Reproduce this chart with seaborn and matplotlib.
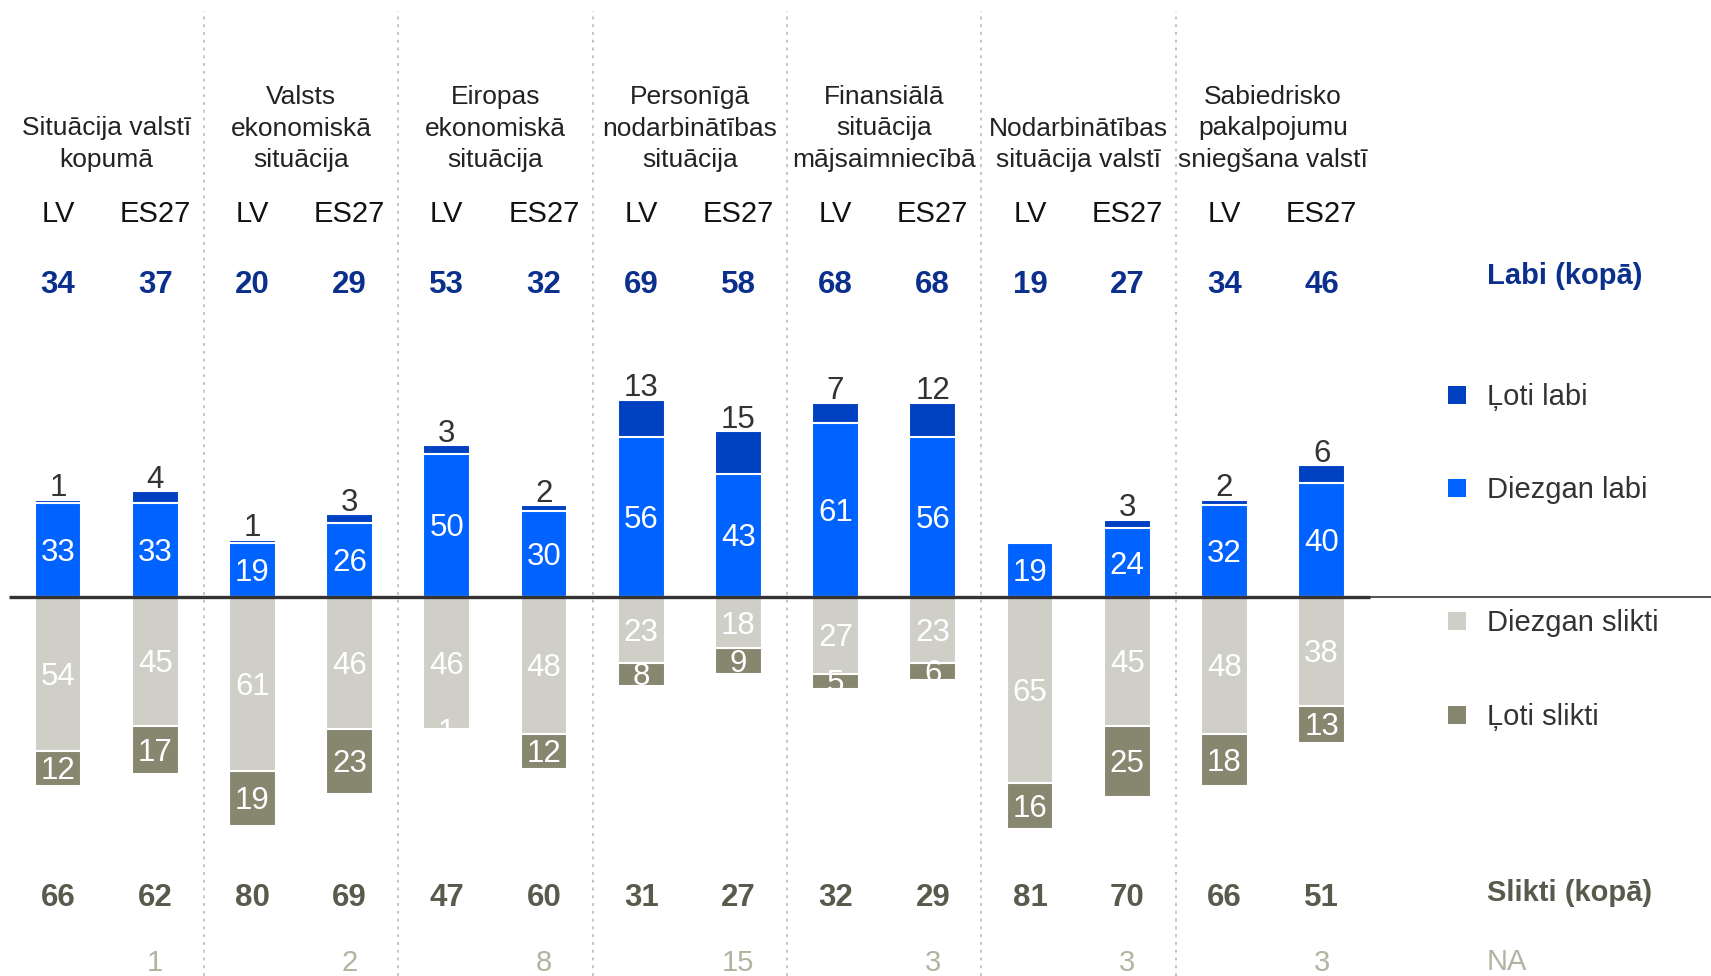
import numpy as np
import pandas as pd
import matplotlib.pyplot as plt
import seaborn as sns

# Data
topics = [
    "Situācija valstī\nkopumā",
    "Valsts\nekonomiskā\nsituācija",
    "Eiropas\nekonomiskā\nsituācija",
    "Personīgā\nnodarbinātības\nsituācija",
    "Finansiālā\nsituācija\nmājsaimniecībā",
    "Nodarbinātības\nsituācija valstī",
    "Sabiedrisko\npakalpojumu\nsniegšana valstī",
]
groups = ["LV", "ES27"]

loti_labi = [1, 4, 1, 3, 3, 2, 13, 15, 7, 12, 0, 3, 2, 6]
diezgan_labi = [33, 33, 19, 26, 50, 30, 56, 43, 61, 56, 19, 24, 32, 40]
diezgan_slikti = [54, 45, 61, 46, 46, 48, 23, 18, 27, 23, 65, 45, 48, 38]
loti_slikti = [12, 17, 19, 23, 1, 12, 8, 9, 5, 6, 16, 25, 18, 13]
labi_kopa = [34, 37, 20, 29, 53, 32, 69, 58, 68, 68, 19, 27, 34, 46]
slikti_kopa = [66, 62, 80, 69, 47, 60, 31, 27, 32, 29, 81, 70, 66, 51]
na_values = ["", "1", "", "2", "", "8", "", "15", "", "3", "", "3", "", "3"]

legend_labels = ["Ļoti labi", "Diezgan labi", "Diezgan slikti", "Ļoti slikti"]

# Colours
C_LL = "#0041c2"
C_DL = "#0062ff"
C_DS = "#cfcfc7"
C_LS = "#878770"
C_NAVY = "#0b2f8c"
C_OLIVE = "#5a5a4c"
C_NA = "#b3b3a0"
C_TEXT = "#333333"

sns.set_theme(style="white")
plt.rcParams['font.family'] = ['Liberation Sans', 'DejaVu Sans']

W, H = 1711, 976
PX_X = 97.2      # px per bar slot
X0 = 58          # px centre of first bar
PX_Y = 2.86      # px per percentage point
BASE = 597       # px from top of the zero line

fig = plt.figure(figsize=(W / 100, H / 100), dpi=100)
ax = fig.add_axes([0, 0, 1, 1])

bar_ids = [f"{t}|{g}" for t in range(len(topics)) for g in groups]
df = pd.DataFrame({
    "bar": bar_ids,
    "good": np.array(loti_labi) + np.array(diezgan_labi),
    "dl": diezgan_labi,
    "bad": -(np.array(diezgan_slikti) + np.array(loti_slikti)),
    "ds": -np.array(diezgan_slikti),
})

common = dict(data=df, x="bar", order=bar_ids, width=0.48, saturation=1,
              edgecolor="white", linewidth=1.5, errorbar=None, ax=ax)
sns.barplot(y="good", color=C_LL, **common)
sns.barplot(y="dl", color=C_DL, **common)
sns.barplot(y="bad", color=C_LS, **common)
sns.barplot(y="ds", color=C_DS, **common)

ax.set_xlim(-X0 / PX_X, (W - X0) / PX_X)
ax.set_ylim(-(H - BASE) / PX_Y, BASE / PX_Y)
ax.set_axis_off()


def fy(py):
    # pixel-from-top to figure fraction
    return 1 - py / H


tr = ax.get_xaxis_transform()

# zero line: thick under the bars, thin across the legend area
n = len(bar_ids)
ax.plot([-0.5, n - 0.5], [0, 0], color="#333333", lw=2.4, zorder=5,
        solid_capstyle="butt")
ax.plot([n - 0.5, (W - X0) / PX_X], [0, 0], color="#333333", lw=1.2, zorder=5)

# dotted separators between topics
for k in range(1, len(topics)):
    ax.axvline(2 * k - 0.5, ymin=0, ymax=fy(11), color="#c4c4c4",
               lw=1.4, ls=(0, (1.5, 2.5)), zorder=0)

# topic headers, bottom aligned
for t, name in enumerate(topics):
    lines = name.split("\n")
    for k, line in enumerate(reversed(lines)):
        ax.text(2 * t + 0.5, fy(160 - 31.5 * k), line, transform=tr,
                ha="center", va="center", fontsize=19, color="#222222")

for i in range(n):
    ax.text(i, fy(214), groups[i % 2], transform=tr, ha="center",
            va="center", fontsize=21, color="#111111")
    ax.text(i, fy(285), str(labi_kopa[i]), transform=tr, ha="center",
            va="center", fontsize=22.5, fontweight="bold", color=C_NAVY)
    ax.text(i, fy(898), str(slikti_kopa[i]), transform=tr, ha="center",
            va="center", fontsize=22.5, fontweight="bold", color=C_OLIVE)
    if na_values[i]:
        ax.text(i, fy(963), na_values[i], transform=tr, ha="center",
                va="center", fontsize=21, color=C_NA)

    # value labels on the bars
    dl, ll = diezgan_labi[i], loti_labi[i]
    ds, ls = diezgan_slikti[i], loti_slikti[i]
    ax.text(i, dl / 2 - 1, str(dl), ha="center", va="center", fontsize=22.5,
            color="white", zorder=6)
    if ll > 0:
        ax.text(i, dl + ll + 1.2, str(ll), ha="center", va="baseline",
                fontsize=22.5, color=C_TEXT, zorder=6)
    ax.text(i, -ds / 2 - 1, str(ds), ha="center", va="center", fontsize=22.5,
            color="white", zorder=6)
    ax.text(i, -(ds + ls / 2) - 1, str(ls), ha="center", va="center",
            fontsize=22.5, color="white", zorder=6)

# right-hand legend
LX_SQ, LX_TXT = 1457, 1487
ax.text(LX_TXT / W, fy(276), "Labi (kopā)", transform=fig.transFigure,
        ha="left", va="center", fontsize=21, fontweight="bold", color=C_NAVY)
for lab, col, py in zip(legend_labels, [C_LL, C_DL, C_DS, C_LS],
                        [395, 488, 621, 715]):
    ax.scatter([LX_SQ / W], [fy(py)], transform=fig.transFigure, marker="s",
               s=150, color=col, linewidths=0, clip_on=False)
    ax.text(LX_TXT / W, fy(py + 2), lab, transform=fig.transFigure, ha="left",
            va="center", fontsize=21, color=C_TEXT)
ax.text(LX_TXT / W, fy(893), "Slikti (kopā)", transform=fig.transFigure,
        ha="left", va="center", fontsize=21, fontweight="bold", color=C_OLIVE)
ax.text(LX_TXT / W, fy(962), "NA", transform=fig.transFigure, ha="left",
        va="center", fontsize=21, color=C_NA)

fig.savefig("out.png", dpi=100)
